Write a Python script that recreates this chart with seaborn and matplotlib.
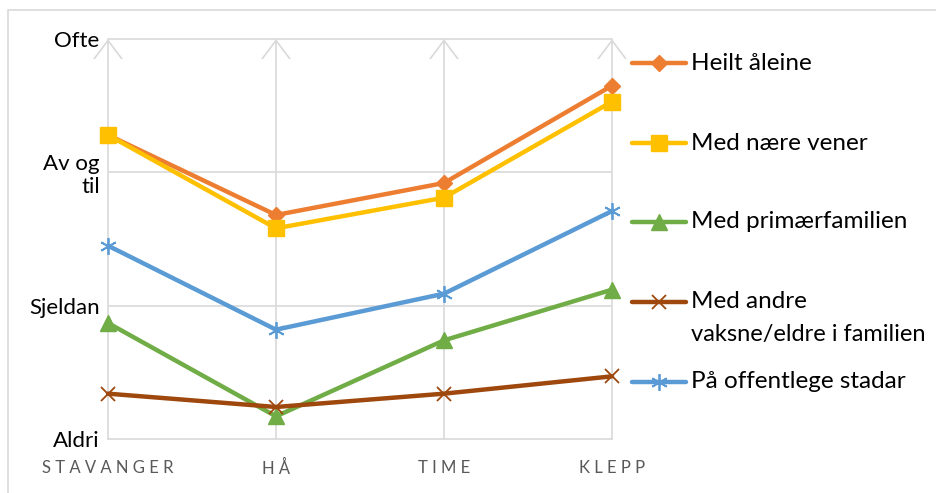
import numpy as np
import pandas as pd
import matplotlib
matplotlib.use("Agg")
import matplotlib.pyplot as plt
from matplotlib.lines import Line2D
from matplotlib.patches import Rectangle
import seaborn as sns

# Municipalities on the x axis and the frequency scale on the y axis
places = ["STAVANGER", "HÅ", "TIME", "KLEPP"]
freq_labels = ["Aldri", "Sjeldan", "Av og\ntil", "Ofte"]
freq_values = [1, 2, 3, 4]

series_names = [
    "Heilt åleine",
    "Med nære vener",
    "Med primærfamilien",
    "Med andre\nvaksne/eldre i familien",
    "På offentlege stadar",
]
heilt_aleine = [3.28, 2.68, 2.92, 3.65]
naere_vener = [3.28, 2.58, 2.81, 3.53]
primaerfamilien = [1.87, 1.17, 1.74, 2.12]
andre_vaksne = [1.34, 1.24, 1.34, 1.47]
offentlege = [2.45, 1.82, 2.09, 2.71]

series_values = [heilt_aleine, naere_vener, primaerfamilien, andre_vaksne, offentlege]
colors = ["#ED7D31", "#FFC000", "#70AD47", "#9E480E", "#5B9BD5"]
markers = ["D", "s", "^", "x", (6, 2, 0)]
msizes = [8, 11, 11, 10, 12]
mews = [1, 1, 1, 1.3, 1.3]

sns.set_theme(style="white")
plt.rcParams["font.family"] = ["Lato", "DejaVu Sans"]

W, H = 936, 493
fig = plt.figure(figsize=(W / 100, H / 100), dpi=100)
ax = fig.add_axes([108 / W, (H - 439) / H, (612 - 108) / W, (439 - 39) / H])

grid_c = "#D9D9D9"

# outer chart frame
fig.add_artist(Rectangle((8 / W, -0.2), 1.2, 1.2 - 10 / H, transform=fig.transFigure,
                         fill=False, edgecolor=grid_c, lw=1.2, zorder=0))

rows = []
for name, vals in zip(series_names, series_values):
    for i, (p, v) in enumerate(zip(places, vals)):
        rows.append({"serie": name, "pos": i, "verdi": v})
df = pd.DataFrame(rows)

for name, col, mk, ms, mw in zip(series_names, colors, markers, msizes, mews):
    sub = df[df["serie"] == name]
    sns.lineplot(data=sub, x="pos", y="verdi", ax=ax, color=col, lw=3.2,
                 marker=mk, markersize=ms, markeredgewidth=mw,
                 markeredgecolor=col, markerfacecolor=col, clip_on=False,
                 legend=False, zorder=3)

ax.set_xlim(0, 3)
ax.set_ylim(1, 4)
ax.set_xlabel("")
ax.set_ylabel("")

# horizontal gridlines
for v in [2, 3]:
    ax.axhline(v, color=grid_c, lw=1.2, zorder=1)
for s in ["left", "right"]:
    ax.spines[s].set_visible(False)
for s in ["top", "bottom"]:
    ax.spines[s].set_color(grid_c)
    ax.spines[s].set_linewidth(1.2)

# vertical gridlines ending in open arrow heads
for i in range(len(places)):
    ax.annotate("", xy=(i, 4), xytext=(i, 1), annotation_clip=False,
                arrowprops=dict(arrowstyle="->,head_length=1.0,head_width=0.75",
                                color=grid_c, lw=1.2, mutation_scale=13,
                                shrinkA=0, shrinkB=0), zorder=1)

ax.set_yticks(freq_values)
ax.set_yticklabels(freq_labels, fontsize=16, color="black", multialignment="right",
                   linespacing=1.15)
ax.set_xticks(range(len(places)))
ax.set_xticklabels([" ".join(p) for p in places], fontsize=12, color="#595959")
ax.tick_params(axis="y", length=0, pad=6)
ax.tick_params(axis="x", length=0, pad=15)
for lbl in ax.get_yticklabels():
    if lbl.get_text().startswith("Av"):
        lbl.set_y(3.04)
    elif lbl.get_text() == "Aldri":
        lbl.set_y(1.04)

# legend drawn on the right of the plot area
leg_y = [63, 143, 222, 302, 382]
for name, col, mk, ms, mw, y in zip(series_names, colors, markers, msizes, mews, leg_y):
    yf = (H - y) / H
    fig.add_artist(Line2D([632 / W, 686 / W], [yf, yf], transform=fig.transFigure,
                          color=col, lw=3.2))
    fig.add_artist(Line2D([659 / W], [yf], transform=fig.transFigure, color=col,
                          marker=mk, markersize=ms, markeredgewidth=mw,
                          markeredgecolor=col, markerfacecolor=col))
    first, *rest = name.split("\n")
    fig.text(691 / W, yf, first, fontsize=17.5, va="center", ha="left", color="black")
    for k, line in enumerate(rest):
        fig.text(691 / W, (H - y - 33 * (k + 1)) / H, line, fontsize=17,
                 va="center", ha="left", color="black")

fig.savefig("out.png", dpi=100)
